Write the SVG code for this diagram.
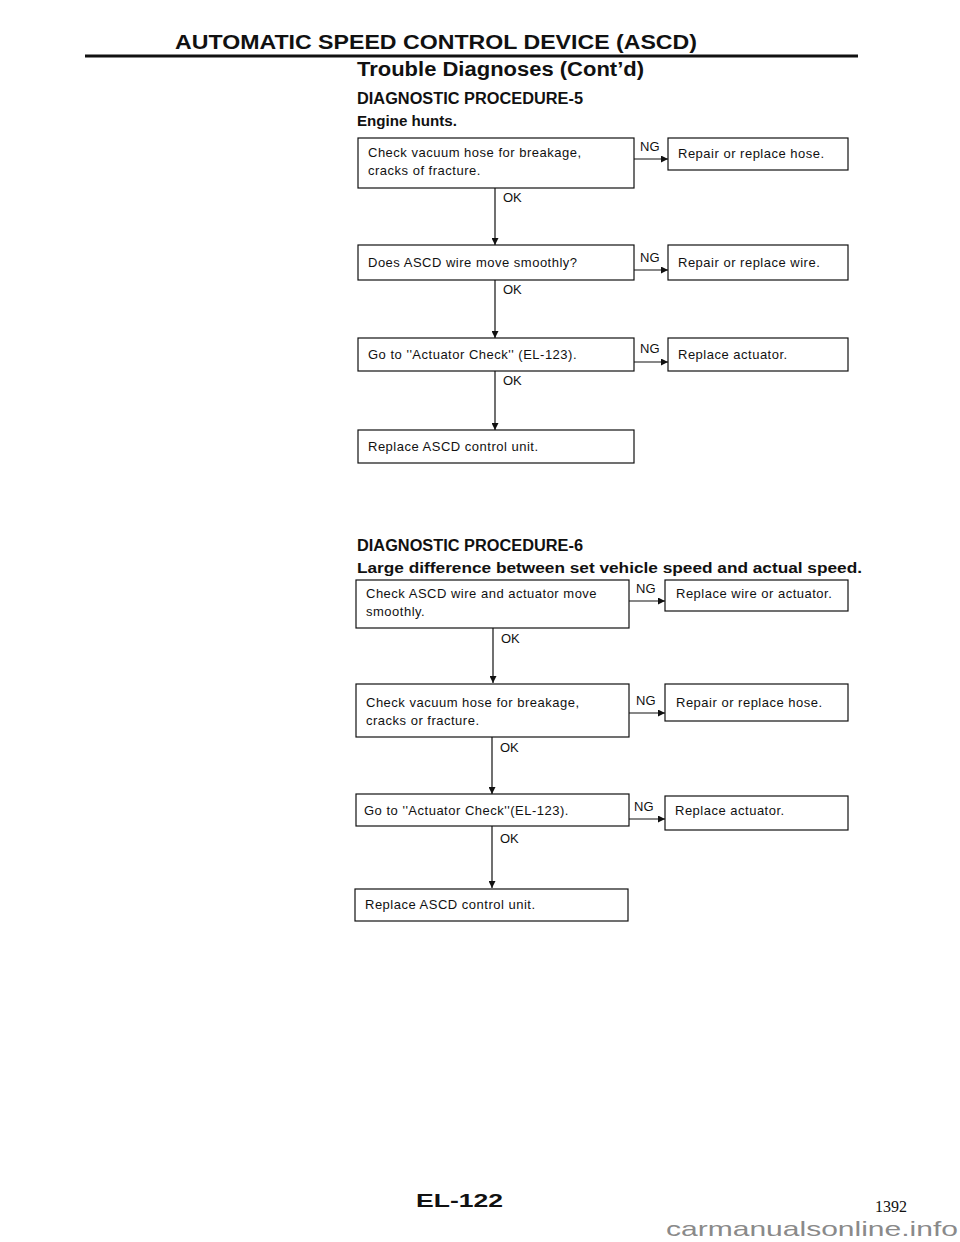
<svg xmlns="http://www.w3.org/2000/svg" width="960" height="1242" viewBox="0 0 960 1242">
<style>
.bx{fill:#fff;stroke:#111;stroke-width:1.2}
.t{font-family:"Liberation Sans",Arial,sans-serif;font-size:13px;letter-spacing:0.5px;fill:#111}
.lb{font-family:"Liberation Sans",Arial,sans-serif;font-size:13px;fill:#111}
.h{font-family:"Liberation Sans",Arial,sans-serif;font-weight:bold;fill:#111}
.ln{stroke:#111;stroke-width:1.2;fill:none}
</style>
<defs>
<marker id="ar" viewBox="0 0 10 10" refX="10" refY="5" markerWidth="8" markerHeight="7" markerUnits="userSpaceOnUse" orient="auto">
<path d="M0,0 L10,5 L0,10 Z" fill="#111"/>
</marker>
</defs>
<rect width="960" height="1242" fill="#fff"/>
<g id="header">
<text class="h" x="175" y="49" font-size="21" textLength="522" lengthAdjust="spacingAndGlyphs">AUTOMATIC SPEED CONTROL DEVICE (ASCD)</text>
<line x1="85" y1="56" x2="858" y2="56" stroke="#111" stroke-width="3"/>
<text class="h" x="357" y="76" font-size="20" textLength="287" lengthAdjust="spacingAndGlyphs">Trouble Diagnoses (Cont’d)</text>
<text class="h" x="357" y="104" font-size="16" textLength="226" lengthAdjust="spacingAndGlyphs">DIAGNOSTIC PROCEDURE-5</text>
<text class="h" x="357" y="126" font-size="14" textLength="100" lengthAdjust="spacingAndGlyphs">Engine hunts.</text>
<text class="h" x="357" y="551" font-size="16" textLength="226" lengthAdjust="spacingAndGlyphs">DIAGNOSTIC PROCEDURE-6</text>
<text class="h" x="357" y="573" font-size="14" textLength="505" lengthAdjust="spacingAndGlyphs">Large difference between set vehicle speed and actual speed.</text>
</g>
<g id="connectors">
<line class="ln" x1="634" y1="159" x2="668" y2="159" marker-end="url(#ar)"/>
<text class="lb" x="640" y="151">NG</text>
<line class="ln" x1="495" y1="188" x2="495" y2="245" marker-end="url(#ar)"/>
<text class="lb" x="503" y="202">OK</text>
<line class="ln" x1="634" y1="270" x2="668" y2="270" marker-end="url(#ar)"/>
<text class="lb" x="640" y="262">NG</text>
<line class="ln" x1="495" y1="280" x2="495" y2="338" marker-end="url(#ar)"/>
<text class="lb" x="503" y="294">OK</text>
<line class="ln" x1="634" y1="362" x2="668" y2="362" marker-end="url(#ar)"/>
<text class="lb" x="640" y="353">NG</text>
<line class="ln" x1="495" y1="371" x2="495" y2="430" marker-end="url(#ar)"/>
<text class="lb" x="503" y="385">OK</text>

<line class="ln" x1="629" y1="601" x2="665" y2="601" marker-end="url(#ar)"/>
<text class="lb" x="636" y="593">NG</text>
<line class="ln" x1="493" y1="628" x2="493" y2="683" marker-end="url(#ar)"/>
<text class="lb" x="501" y="643">OK</text>
<line class="ln" x1="629" y1="713" x2="665" y2="713" marker-end="url(#ar)"/>
<text class="lb" x="636" y="705">NG</text>
<line class="ln" x1="492" y1="737" x2="492" y2="794" marker-end="url(#ar)"/>
<text class="lb" x="500" y="752">OK</text>
<line class="ln" x1="629" y1="819" x2="665" y2="819" marker-end="url(#ar)"/>
<text class="lb" x="634" y="811">NG</text>
<line class="ln" x1="492" y1="826" x2="492" y2="888" marker-end="url(#ar)"/>
<text class="lb" x="500" y="843">OK</text>
</g>
<g id="p5-check-hose">
<rect class="bx" x="358" y="138" width="276" height="50"/>
<text class="t" x="368" y="157">Check vacuum hose for breakage,</text>
<text class="t" x="368" y="175">cracks of fracture.</text>
</g>
<g id="p5-repair-hose">
<rect class="bx" x="668" y="138" width="180" height="32"/>
<text class="t" x="678" y="158">Repair or replace hose.</text>
</g>
<g id="p5-wire">
<rect class="bx" x="358" y="245" width="276" height="35"/>
<text class="t" x="368" y="267">Does ASCD wire move smoothly?</text>
</g>
<g id="p5-repair-wire">
<rect class="bx" x="668" y="245" width="180" height="35"/>
<text class="t" x="678" y="267">Repair or replace wire.</text>
</g>
<g id="p5-actuator-check">
<rect class="bx" x="358" y="338" width="276" height="33"/>
<text class="t" x="368" y="359">Go to ''Actuator Check'' (EL-123).</text>
</g>
<g id="p5-replace-actuator">
<rect class="bx" x="668" y="338" width="180" height="33"/>
<text class="t" x="678" y="359">Replace actuator.</text>
</g>
<g id="p5-replace-unit">
<rect class="bx" x="358" y="430" width="276" height="33"/>
<text class="t" x="368" y="451">Replace ASCD control unit.</text>
</g>

<g id="p6-check-wire">
<rect class="bx" x="356" y="580" width="273" height="48"/>
<text class="t" x="366" y="598">Check ASCD wire and actuator move</text>
<text class="t" x="366" y="616">smoothly.</text>
</g>
<g id="p6-replace-wire">
<rect class="bx" x="665" y="580" width="183" height="31"/>
<text class="t" x="676" y="598">Replace wire or actuator.</text>
</g>
<g id="p6-check-hose">
<rect class="bx" x="356" y="684" width="273" height="53"/>
<text class="t" x="366" y="707">Check vacuum hose for breakage,</text>
<text class="t" x="366" y="725">cracks or fracture.</text>
</g>
<g id="p6-repair-hose">
<rect class="bx" x="665" y="684" width="183" height="37"/>
<text class="t" x="676" y="707">Repair or replace hose.</text>
</g>
<g id="p6-actuator-check">
<rect class="bx" x="356" y="794" width="273" height="32"/>
<text class="t" x="364" y="815">Go to ''Actuator Check''(EL-123).</text>
</g>
<g id="p6-replace-actuator">
<rect class="bx" x="665" y="796" width="183" height="34"/>
<text class="t" x="675" y="815">Replace actuator.</text>
</g>
<g id="p6-replace-unit">
<rect class="bx" x="355" y="889" width="273" height="32"/>
<text class="t" x="365" y="909">Replace ASCD control unit.</text>
</g>
<g id="footer">
<text class="h" x="416" y="1207" font-size="19" textLength="87" lengthAdjust="spacingAndGlyphs">EL-122</text>
<text x="875" y="1212" font-family="Liberation Serif,'Times New Roman',serif" font-size="16" fill="#111">1392</text>
<text x="666" y="1236" font-family="Liberation Sans,Arial,sans-serif" font-size="21" fill="#8a8a8a" textLength="292" lengthAdjust="spacingAndGlyphs">carmanualsonline.info</text>
</g>
</svg>
